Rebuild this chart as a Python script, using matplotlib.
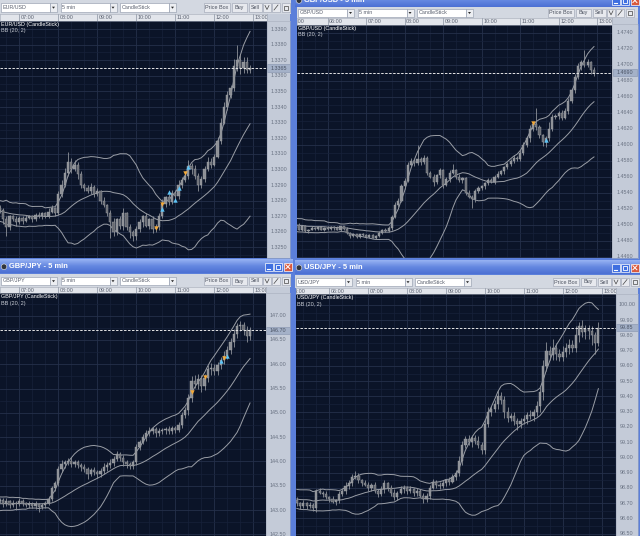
import numpy as np
import pandas as pd
import matplotlib.pyplot as plt
from matplotlib.patches import Rectangle, Polygon, Circle
from matplotlib.colors import LinearSegmentedColormap

plt.rcParams['font.family'] = ['Liberation Sans', 'DejaVu Sans']

#%% data: 5 min candles (close prices), wicks in pips, BB warm-up closes

# EUR/USD, first candle 06:30
eur_close = [1.3274, 1.3268, 1.3263, 1.3270, 1.3268, 1.3266, 1.3269, 1.3267, 1.3269, 1.3270,
             1.3268, 1.3271, 1.3270, 1.3272, 1.3270, 1.3273, 1.3275, 1.3272,
             1.3284, 1.3290, 1.3298, 1.3305, 1.3300, 1.3303, 1.3297,
             1.3290, 1.3288, 1.3286, 1.3289, 1.3284, 1.3286, 1.3280, 1.3277, 1.3272,
             1.3266, 1.3260, 1.3268, 1.3264, 1.3272, 1.3263, 1.3260, 1.3257, 1.3262, 1.3266,
             1.3270, 1.3264, 1.3268, 1.3262,
             1.3263, 1.3270, 1.3278, 1.3282, 1.3279, 1.3285, 1.3283, 1.3290, 1.3293, 1.3296,
             1.3302, 1.3300, 1.3296, 1.3290, 1.3294,
             1.3300, 1.3305, 1.3303, 1.3308, 1.3318, 1.3330, 1.3340, 1.3348, 1.3352, 1.3366,
             1.3370, 1.3365, 1.3369, 1.3364, 1.3365]
eur_pre = [1.3278, 1.3274, 1.3280, 1.3276, 1.3271, 1.3275, 1.3269, 1.3273, 1.3278, 1.3274,
           1.3270, 1.3267, 1.3272, 1.3276, 1.3271, 1.3274, 1.3268, 1.3272, 1.3275]
eur_wu = [2, 1, 2, 1, 1, 2, 1, 1, 2, 1, 1, 1, 2, 1, 1, 2, 2, 1,
          2, 3, 3, 6, 2, 3, 2,
          2, 1, 2, 2, 1, 2, 1, 2, 1,
          2, 3, 1, 2, 3, 1, 2, 1, 2, 2, 1, 2, 1, 2,
          2, 2, 3, 1, 2, 2, 2, 3, 2, 3, 4, 2, 3, 2, 2,
          2, 3, 2, 2, 3, 3, 3, 2, 2, 5, 10, 4, 3, 3, 2]
eur_wd = [2, 3, 6, 2, 1, 2, 1, 2, 1, 1, 2, 1, 1, 2, 1, 1, 1, 2,
          1, 2, 1, 2, 2, 1, 3,
          2, 2, 1, 2, 2, 1, 2, 1, 2,
          10, 3, 2, 2, 3, 2, 4, 3, 2, 2, 3, 1, 2, 3,
          2, 2, 1, 2, 2, 1, 2, 2, 2, 1, 2, 3, 2, 4, 2,
          2, 1, 2, 1, 1, 2, 1, 2, 2, 2, 3, 4, 3, 2, 2]

# GBP/USD, first candle 05:10
gbpusd_close = [1.4500, 1.4494, 1.4498, 1.4492,
                1.4494, 1.4496, 1.4495, 1.4497, 1.4494, 1.4496, 1.4495, 1.4497, 1.4496, 1.4494, 1.4498,
                1.4495, 1.4490, 1.4486, 1.4488, 1.4485,
                1.4488, 1.4487, 1.4485, 1.4487, 1.4484, 1.4486,
                1.4490, 1.4494, 1.4492, 1.4496,
                1.4510, 1.4525, 1.4530, 1.4548, 1.4555, 1.4575, 1.4580, 1.4577, 1.4582, 1.4578, 1.4583,
                1.4565, 1.4560, 1.4553, 1.4562, 1.4568, 1.4550, 1.4557, 1.4565, 1.4568, 1.4560,
                1.4556, 1.4558, 1.4540, 1.4535, 1.4532, 1.4542, 1.4546,
                1.4548, 1.4552, 1.4556, 1.4554, 1.4560, 1.4564, 1.4567, 1.4572, 1.4576, 1.4580,
                1.4584, 1.4582, 1.4590, 1.4600, 1.4608, 1.4620, 1.4626, 1.4622, 1.4612, 1.4603,
                1.4608, 1.4620, 1.4635,
                1.4636, 1.4640, 1.4634, 1.4642, 1.4655, 1.4668, 1.4685, 1.4698, 1.4703, 1.4700,
                1.4703, 1.4694, 1.4690]
gbpusd_pre = [1.4505, 1.4500, 1.4508, 1.4502, 1.4496, 1.4503, 1.4498, 1.4492, 1.4499, 1.4506,
              1.4501, 1.4495, 1.4500, 1.4504, 1.4497, 1.4493, 1.4499, 1.4502, 1.4496]
gbpusd_wu = [2, 2, 1, 2, 1, 2, 1, 1, 2, 1, 2, 1, 1, 2, 1, 1, 2, 1, 2, 1, 1, 2, 1, 1, 2, 1, 2, 1, 2, 2,
             2, 3, 3, 3, 4, 3, 3, 2, 18, 3, 4,
             3, 2, 3, 2, 3, 2, 3, 3, 8, 2, 3, 2, 2, 3, 2, 3, 2,
             2, 2, 3, 2, 2, 3, 2, 2, 3, 2, 3, 2, 3, 4, 3, 5, 3, 20, 3, 2, 3, 8, 4,
             3, 2, 3, 4, 3, 3, 3, 4, 3, 15, 4, 2, 3]
gbpusd_wd = [2, 1, 2, 1, 2, 1, 2, 1, 1, 2, 1, 1, 2, 1, 2, 2, 1, 2, 1, 2, 1, 1, 2, 1, 1, 2, 1, 2, 1, 1,
             2, 2, 3, 2, 3, 2, 2, 3, 2, 3, 2,
             3, 2, 4, 2, 3, 4, 2, 3, 2, 3, 2, 4, 3, 2, 11, 3, 2,
             2, 3, 2, 2, 3, 2, 2, 3, 2, 2, 3, 2, 2, 3, 3, 4, 3, 4, 3, 4, 6, 3, 3,
             3, 4, 3, 2, 3, 3, 3, 3, 4, 3, 3, 5, 4]

# GBP/JPY, first candle 06:30
gbpjpy_close = [143.20, 143.12, 143.18, 143.10, 143.15, 143.12, 143.18, 143.14, 143.10, 143.13,
                143.08, 143.12, 143.06, 143.10, 143.14, 143.22, 143.45, 143.55,
                143.85, 143.95, 143.98, 144.00, 143.95, 143.98, 143.92, 143.88, 143.84, 143.75,
                143.82, 143.78, 143.74, 143.80, 143.88, 143.92, 143.96, 144.05, 144.15, 144.08,
                143.98, 143.94, 143.90, 143.98,
                144.30, 144.40, 144.50, 144.58, 144.62, 144.66, 144.58, 144.62, 144.64, 144.66,
                144.62, 144.68, 144.65, 144.75, 144.95, 145.05,
                145.30, 145.65, 145.60, 145.70, 145.55, 145.72, 145.90, 145.92, 145.86, 145.98,
                146.08, 146.18, 146.30, 146.45, 146.62, 146.78, 146.80, 146.70, 146.58, 146.70]
gbpjpy_pre = [143.05, 143.15, 143.22, 143.10, 143.02, 143.18, 143.25, 143.12, 143.00, 143.08,
              143.20, 143.14, 143.04, 143.10, 143.22, 143.16, 143.06, 143.12, 143.18]
gbpjpy_wu = [5, 4, 6, 3, 5, 4, 6, 4, 3, 5, 4, 6, 3, 5, 4, 6, 5, 4,
             6, 8, 5, 7, 10, 6, 5, 4, 6, 5, 4, 6, 5, 6, 8, 6, 10, 7, 6, 5, 6, 5, 4, 6,
             6, 5, 7, 6, 8, 5, 6, 7, 5, 6, 8, 5, 6, 7, 6, 8,
             8, 10, 12, 10, 8, 9, 8, 10, 8, 7, 8, 9, 8, 9, 10, 8, 10, 8, 9, 7]
gbpjpy_wd = [4, 6, 3, 5, 4, 12, 3, 5, 4, 6, 3, 5, 10, 4, 5, 3, 4, 5,
             5, 6, 8, 5, 6, 7, 5, 8, 6, 10, 5, 6, 8, 5, 6, 7, 5, 6, 5, 6, 8, 7, 6, 5,
             5, 6, 5, 7, 6, 5, 8, 6, 5, 7, 6, 5, 6, 5, 7, 6,
             10, 8, 9, 10, 12, 8, 9, 12, 8, 7, 8, 7, 8, 9, 10, 8, 9, 10, 12, 8]

# USD/JPY, first candle 05:10
usdjpy_close = [98.70, 98.68, 98.70, 98.68, 98.69, 98.67, 98.78, 98.77, 98.76, 98.74,
                98.73, 98.71, 98.72, 98.76, 98.78, 98.81, 98.83, 98.87, 98.88, 98.85,
                98.83, 98.82, 98.80, 98.82, 98.78, 98.76, 98.79, 98.83, 98.80, 98.77,
                98.74, 98.77, 98.79, 98.80, 98.78, 98.79, 98.77, 98.78, 98.75, 98.73,
                98.75, 98.80, 98.84, 98.82, 98.81, 98.83, 98.85, 98.84, 98.87, 98.90,
                98.98, 99.08, 99.12, 99.10, 99.13, 99.11, 99.08, 99.05,
                99.22, 99.30, 99.32, 99.35, 99.40, 99.38, 99.30, 99.26, 99.27, 99.24,
                99.22, 99.24, 99.25, 99.28, 99.27, 99.30, 99.34, 99.43, 99.60, 99.70,
                99.67, 99.72, 99.68, 99.66, 99.69, 99.72, 99.74, 99.72, 99.80, 99.86,
                99.82, 99.84, 99.83, 99.80, 99.75, 99.85]
usdjpy_pre = [98.76, 98.72, 98.68, 98.74, 98.79, 98.75, 98.70, 98.73, 98.77, 98.71,
              98.68, 98.74, 98.78, 98.72, 98.69, 98.75, 98.73, 98.70, 98.72]
usdjpy_wu = [2, 1, 2, 1, 2, 1, 1, 2, 1, 2, 1, 2, 1, 2, 2, 3, 2, 2, 3, 2, 1, 2, 2, 1, 2, 1, 2, 2, 1, 2,
             2, 1, 2, 2, 1, 2, 1, 2, 1, 2, 2, 2, 2, 1, 2, 2, 1, 2, 2, 2, 3, 3, 2, 3, 2, 2, 3, 2,
             3, 3, 2, 3, 4, 3, 2, 3, 2, 3, 2, 2, 3, 2, 3, 2, 3, 3, 4, 6,
             3, 6, 3, 3, 4, 3, 4, 3, 6, 3, 4, 3, 3, 3, 2, 4]
usdjpy_wd = [2, 2, 1, 2, 1, 2, 3, 1, 2, 1, 2, 1, 2, 2, 1, 2, 2, 2, 1, 2, 2, 1, 2, 2, 1, 2, 1, 2, 2, 2,
             2, 2, 1, 2, 2, 1, 2, 2, 1, 3, 2, 2, 1, 2, 2, 1, 2, 2, 1, 2, 2, 3, 2, 2, 3, 2, 2, 3,
             3, 2, 3, 2, 3, 3, 4, 3, 2, 3, 4, 3, 2, 3, 2, 3, 3, 4, 5, 3,
             3, 3, 4, 3, 3, 3, 4, 3, 3, 4, 3, 4, 5, 6, 7, 2]

# trade signal arrows: (candle index, price)
eur_buy = [(50, 1.32746), (52, 1.32855), (54, 1.32804), (55, 1.32881), (58, 1.33015)]
eur_sell = [(48, 1.32624), (50, 1.32778), (57, 1.32977)]
gbpusd_buy = [(78, 1.46059)]
gbpusd_sell = [(74, 1.46267)]
gbpjpy_buy = [(68, 146.07), (70, 146.17)]
gbpjpy_sell = [(59, 145.44), (63, 145.745), (69, 146.12)]

#%% layout helpers (pixel coordinates, y downwards)
W, H = 640, 536
fig = plt.figure(figsize=(W / 100, H / 100), dpi=100)
fig.patch.set_facecolor('#5b7fda')

ui = fig.add_axes([0, 0, 1, 1], zorder=0)
ui.set_xlim(0, W)
ui.set_ylim(H, 0)
ui.axis('off')

AXIS_BG = '#c4cbd8'
FS = 3.9


def frac(x, y, w, h):
    return [x / W, 1 - (y + h) / H, w / W, h / H]


def box(x, y, w, h, fc, ec='none', lw=0.5, z=1):
    ui.add_patch(Rectangle((x, y), w, h, fc=fc, ec=ec, lw=lw, zorder=z))


tb_cmap = LinearSegmentedColormap.from_list('tb', ['#95b1f2', '#6487e0', '#4d71d4'])


def title_bar(x0, x1, y0, y1, text):
    ui.imshow(np.linspace(0, 1, 16).reshape(-1, 1), extent=(x0, x1, y1, y0),
              cmap=tb_cmap, aspect='auto', zorder=1)
    cy = (y0 + y1) / 2
    ui.add_patch(Circle((x0 + 4, cy), 2.8, fc='#30343c', ec='#e8e8e8', lw=0.4, zorder=2))
    ui.text(x0 + 9, cy, text, color='white', fontsize=5.4, fontweight='bold',
            va='center', ha='left', zorder=2)
    for k, col in enumerate(['#3f6fe0', '#3f6fe0', '#d9593c']):
        bx = x1 - 28.5 + k * 9.7
        ui.add_patch(Rectangle((bx, cy - 4), 8, 8, fc=col, ec='white', lw=0.5, zorder=2))
        if k == 0:
            ui.plot([bx + 2, bx + 5], [cy + 2, cy + 2], color='white', lw=0.8, zorder=3)
        elif k == 1:
            ui.add_patch(Rectangle((bx + 2, cy - 2), 4, 4, fc='none', ec='white', lw=0.6, zorder=3))
        else:
            ui.plot([bx + 2, bx + 6], [cy - 2, cy + 2], color='white', lw=0.7, zorder=3)
            ui.plot([bx + 2, bx + 6], [cy + 2, cy - 2], color='white', lw=0.7, zorder=3)
    ui.set_xlim(0, W)
    ui.set_ylim(H, 0)


def toolbar(x0, x1, y0, y1, cy, sym, xr):
    box(x0, y0, x1 - x0, y1 - y0, '#d3d8e1')
    for k, lab in enumerate([sym, '5 min', 'CandleStick']):
        bx = x0 + 1 + k * 59.5
        box(bx, cy - 4.2, 49, 8.4, 'white', '#8d96a8', 0.4, z=2)
        ui.text(bx + 1.5, cy, lab, fontsize=FS, color='#5c6270', va='center', zorder=3)
        box(bx + 49, cy - 4.2, 7, 8.4, '#eceef2', '#8d96a8', 0.4, z=2)
        ui.add_patch(Polygon([[bx + 51, cy - 0.8], [bx + 54, cy - 0.8], [bx + 52.5, cy + 1.2]],
                             fc='#2a2a2a', zorder=3))
    for lab, bx, bw in [('Price Box', xr - 87, 26), ('Buy', xr - 59, 15), ('Sell', xr - 42, 13)]:
        box(bx, cy - 4.2, bw, 8.4, '#e7e9ee', '#9aa1b0', 0.4, z=2)
        ui.text(bx + bw / 2, cy, lab, fontsize=FS, color='#4c5260', ha='center', va='center', zorder=3)
    for k, bx in enumerate([xr - 28, xr - 19, xr - 9.5]):
        box(bx, cy - 4.2, 8, 8.4, '#e7e9ee', '#9aa1b0', 0.4, z=2)
        if k == 0:
            ui.plot([bx + 2, bx + 4, bx + 6], [cy - 2, cy + 2, cy - 2], color='#444', lw=0.5, zorder=3)
        elif k == 1:
            ui.plot([bx + 2, bx + 6], [cy + 2.5, cy - 2.5], color='#444', lw=0.5, zorder=3)
        else:
            ui.add_patch(Rectangle((bx + 2, cy - 2), 4, 4, fc='none', ec='#444', lw=0.5, zorder=3))


def chart(sym, start, closes, pre, wu, wd, pip, plot_rect, strip, ts_y, xlim, ylim,
          yticks, fmt, buys=(), sells=()):
    px, py, pw, ph = plot_rect
    sx, sw = strip
    closes = np.array(closes, dtype=float)
    n = len(closes)
    assert len(wu) == n and len(wd) == n and len(pre) == 19, sym
    t = start + np.arange(n) * 5 / 60
    opens = np.r_[pre[-1], closes[:-1]]
    hi = np.maximum(opens, closes) + np.array(wu) * pip
    lo = np.minimum(opens, closes) - np.array(wd) * pip

    # Bollinger bands (20, 2)
    s = pd.Series(np.r_[pre, closes])
    mid = s.rolling(20).mean().values[len(pre):]
    sd = s.rolling(20).std(ddof=0).values[len(pre):]

    ax = fig.add_axes(frac(px, py, pw, ph), zorder=2)
    ax.set_facecolor('#0b1428')
    hours = np.arange(5, 14)
    ax.set_xticks(hours)
    ax.set_xticks(np.arange(5, 14, 1 / 3), minor=True)
    step = yticks[1] - yticks[0]
    ax.set_yticks(yticks)
    ax.set_yticks(np.arange(yticks[0] - step, yticks[-1] + step, step / 2), minor=True)
    ax.set_xlim(xlim)
    ax.set_ylim(ylim)
    ax.grid(which='major', color='#25304a', lw=0.6)
    ax.grid(which='minor', color='#17213a', lw=0.5)
    ax.set_axisbelow(True)
    ax.tick_params(which='both', length=0, labelbottom=False, labelleft=False)
    for sp in ax.spines.values():
        sp.set_visible(False)

    for band in (mid + 2 * sd, mid, mid - 2 * sd):
        ax.plot(t, band, color='#9a9ea6', lw=0.7, zorder=2)
    ax.vlines(t, lo, hi, color='#8e9299', lw=0.6, zorder=3)
    up = closes >= opens
    ax.bar(t, closes - opens, bottom=opens, width=0.055,
           color=np.where(up, '#8d9096', '#676a71'), edgecolor='#a3a6ab', lw=0.3, zorder=3)

    if buys:
        bi, bp = zip(*buys)
        ax.scatter(t[list(bi)], bp, marker='^', s=10, color='#5ec4f6', lw=0, zorder=5)
    if sells:
        si, sp_ = zip(*sells)
        ax.scatter(t[list(si)], sp_, marker='v', s=10, color='#f3a838', lw=0, zorder=5)

    last = closes[-1]
    ax.axhline(last, color='#e6e6e6', lw=0.7, ls=(0, (2.5, 1.6)), zorder=4)
    ax.text(0.004, 0.994, sym + ' (CandleStick)', transform=ax.transAxes, color='white',
            fontsize=FS, va='top', ha='left')
    ax.text(0.004, 0.969, 'BB (20, 2)', transform=ax.transAxes, color='#c8ccd4',
            fontsize=FS, va='top', ha='left')

    # time strip
    tax = fig.add_axes(frac(px, ts_y, pw, py - ts_y), zorder=2)
    tax.set_facecolor('#e2e5eb')
    tax.set_xlim(xlim)
    tax.set_ylim(0, 1)
    tax.set_xticks([])
    tax.set_yticks([])
    for sp in tax.spines.values():
        sp.set_color('#a0a7b4')
        sp.set_linewidth(0.4)
    for h in hours:
        tax.axvline(h, color='#98a0ae', lw=0.6)
        tax.text(h + 0.04, 0.45, '%02d:00' % h, fontsize=FS, color='#5a6170',
                 va='center', ha='left', clip_on=True)

    # price axis strip
    box(sx, ts_y, sw, py - ts_y, AXIS_BG)
    pax = fig.add_axes(frac(sx, py, sw, ph), zorder=2)
    pax.set_facecolor(AXIS_BG)
    pax.set_xlim(0, 1)
    pax.set_ylim(ylim)
    pax.set_xticks([])
    pax.set_yticks([])
    for sp in pax.spines.values():
        sp.set_color('#a6aebd')
        sp.set_linewidth(0.4)
    for v in yticks:
        pax.text(0.5, v, fmt % v, fontsize=FS, color='#6a7383', ha='center', va='center')
    hh = (ylim[1] - ylim[0]) / ph * 3.6
    pax.add_patch(Rectangle((0.02, last - hh), 0.96, 2 * hh, fc='#a4b1c8', ec='#8593ae', lw=0.4))
    pax.text(0.5, last, fmt % last, fontsize=FS, color='#4a5364', ha='center', va='center')


#%% top-left: EUR/USD
toolbar(0, 291, 0, 14, 7.5, 'EUR/USD', 291)
chart('EUR/USD', 6.5, eur_close, eur_pre, eur_wu, eur_wd, 0.0001,
      (0, 20.5, 267, 237.5), (267, 23), 14,
      (6.505, 13.351), (1.324321, 1.339545),
      np.round(np.arange(1.3250, 1.33905, 0.001), 4), '%.4f', eur_buy, eur_sell)

#%% top-right: GBP/USD
title_bar(295, 640, -6, 7, 'GBP/USD - 5 min')
toolbar(297, 638, 7, 18, 12.8, 'GBP/USD', 635)
chart('GBP/USD', 5 + 10 / 60, gbpusd_close, gbpusd_pre, gbpusd_wu, gbpusd_wd, 0.0001,
      (297, 24.5, 315, 233.5), (612, 26), 18,
      (5.2026, 13.3844), (1.445838, 1.475025),
      np.round(np.arange(1.4460, 1.47405, 0.002), 4), '%.4f', gbpusd_buy, gbpusd_sell)

#%% bottom-left: GBP/JPY
title_bar(0, 293, 260, 273.5, 'GBP/JPY - 5 min')
toolbar(0, 291, 273.5, 287, 281, 'GBP/JPY', 291)
chart('GBP/JPY', 6.5, gbpjpy_close, gbpjpy_pre, gbpjpy_wu, gbpjpy_wd, 0.01,
      (0, 293, 266, 243), (266, 24), 287,
      (6.505, 13.326), (142.467, 147.467),
      np.round(np.arange(142.5, 147.01, 0.5), 2), '%.2f', gbpjpy_buy, gbpjpy_sell)

#%% bottom-right: USD/JPY
title_bar(295, 640, 261, 274.5, 'USD/JPY - 5 min')
toolbar(295, 640, 274.5, 288, 282, 'USD/JPY', 640)
chart('USD/JPY', 5 + 10 / 60, usdjpy_close, usdjpy_pre, usdjpy_wu, usdjpy_wd, 0.01,
      (296, 294, 320, 242), (616, 22), 288,
      (5.144, 13.370), (98.485, 100.072),
      np.round(np.arange(98.5, 100.01, 0.1), 2), '%.2f')

fig.savefig('out.png', dpi=100, facecolor=fig.get_facecolor())
